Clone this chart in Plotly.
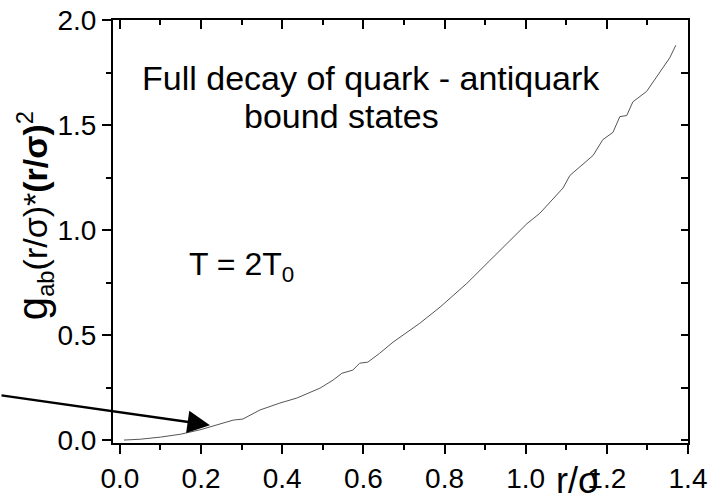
import plotly.graph_objects as go

# r/sigma values and g_ab(r/sigma)*(r/sigma)^2
r_sigma = [0.01, 0.05, 0.10, 0.15, 0.20, 0.246, 0.279, 0.303, 0.345, 0.394, 0.436,
           0.493, 0.525, 0.547, 0.574, 0.591, 0.611, 0.640, 0.673, 0.739, 0.789,
           0.855, 0.936, 1.003, 1.035, 1.092, 1.109, 1.166, 1.190, 1.215, 1.232,
           1.249, 1.264, 1.298, 1.355, 1.370]
g_r2 = [0.000, 0.004, 0.014, 0.028, 0.050, 0.076, 0.095, 0.100, 0.143, 0.176, 0.200,
        0.247, 0.285, 0.318, 0.333, 0.366, 0.371, 0.413, 0.466, 0.556, 0.633,
        0.746, 0.904, 1.030, 1.080, 1.200, 1.260, 1.355, 1.430, 1.465, 1.540,
        1.545, 1.610, 1.660, 1.820, 1.880]

x_ticks = [0.0, 0.2, 0.4, 0.6, 0.8, 1.0, 1.2, 1.4]
x_ticktext = ["0.0", "0.2", "0.4", "0.6", "0.8", "1.0", "1.2", "1.4"]
y_ticks = [0.0, 0.5, 1.0, 1.5, 2.0]
y_ticktext = ["0.0", "0.5", "1.0", "1.5", "2.0"]

FONT = "Liberation Sans, Arial, Helvetica, sans-serif"
TICKFONT = dict(family=FONT, size=28, color="black")
x_range = [-0.017, 1.4]
y_range = [-0.014, 2.0]

fig = go.Figure()
fig.add_trace(go.Scatter(x=r_sigma, y=g_r2, mode="lines",
                         line=dict(color="#555555", width=1),
                         showlegend=False, hoverinfo="skip"))
# invisible trace to activate the mirrored (inside-tick) axes
fig.add_trace(go.Scatter(x=r_sigma, y=g_r2, mode="lines", opacity=0,
                         xaxis="x2", yaxis="y2", showlegend=False, hoverinfo="skip"))

axis_common = dict(showgrid=False, zeroline=False, linecolor="black", linewidth=2,
                   tickcolor="black", tickwidth=1.5, automargin=False)

fig.update_layout(
    width=718, height=504,
    margin=dict(l=113, r=30, t=20, b=61),
    paper_bgcolor="white", plot_bgcolor="white",
    font=dict(family=FONT, color="black"),
    xaxis=dict(range=x_range, tickvals=x_ticks, ticktext=x_ticktext,
               tickfont=TICKFONT,
               ticks="outside", ticklen=9, showline=True, mirror=True,
               minor=dict(ticks="outside", ticklen=5, dtick=0.1, tick0=0,
                          tickcolor="black", tickwidth=1.5),
               **axis_common),
    yaxis=dict(range=y_range, tickvals=y_ticks, ticktext=y_ticktext,
               tickfont=TICKFONT,
               ticks="outside", ticklen=9, showline=True, mirror=True,
               minor=dict(ticks="outside", ticklen=5, dtick=0.25, tick0=0,
                          tickcolor="black", tickwidth=1.5),
               **axis_common),
    xaxis2=dict(range=x_range, overlaying="x", side="top", anchor="y2",
                tickvals=x_ticks, ticks="inside", ticklen=9, showticklabels=False,
                showline=False,
                minor=dict(ticks="inside", ticklen=5, dtick=0.1, tick0=0,
                           tickcolor="black", tickwidth=1.5),
                **axis_common),
    yaxis2=dict(range=y_range, overlaying="y", side="right", anchor="x2",
                tickvals=y_ticks, ticks="inside", ticklen=7, showticklabels=False,
                showline=False,
                minor=dict(ticks="inside", ticklen=7, dtick=0.25, tick0=0,
                           tickcolor="black", tickwidth=1.5),
                **axis_common),
)

annotations = [
    dict(text="<span style='font-size:42px'>g</span><sub>ab</sub>(r/σ)*<b>(r/σ)</b><sup>2</sup>",
         xref="paper", yref="paper", x=-0.136, y=0.538, textangle=-90,
         xanchor="center", yanchor="middle", showarrow=False,
         font=dict(family=FONT, size=34, color="black")),
    dict(text="r/σ", xref="x", yref="paper", x=1.13, y=-0.088,
         xanchor="center", yanchor="middle", showarrow=False,
         font=dict(family=FONT, size=36, color="black")),
    dict(text="Full decay of quark - antiquark", xref="paper", yref="paper",
         x=0.449, y=0.862, xanchor="center", yanchor="middle", showarrow=False,
         font=dict(family=FONT, size=34, color="black")),
    dict(text="bound states", xref="paper", yref="paper",
         x=0.398, y=0.774, xanchor="center", yanchor="middle", showarrow=False,
         font=dict(family=FONT, size=34, color="black")),
    dict(text="T = 2T<sub>0</sub>", xref="paper", yref="paper",
         x=0.223, y=0.418, xanchor="center", yanchor="middle", showarrow=False,
         font=dict(family=FONT, size=32, color="black")),
    dict(text="", x=0.222, y=0.071, xref="x", yref="y", showarrow=True,
         ax=-210, ay=-30, arrowhead=2, arrowsize=1.8, arrowwidth=2.5,
         arrowcolor="black"),
]
fig.update_layout(annotations=annotations)

fig.write_html("out.html")
